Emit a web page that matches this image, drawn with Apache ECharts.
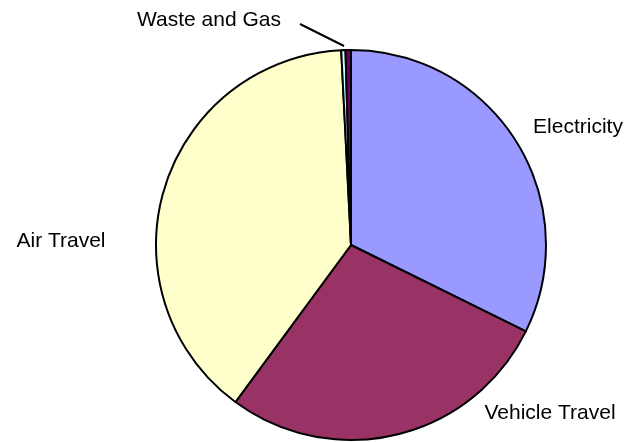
<!DOCTYPE html>
<html>
<head>
<meta charset="utf-8">
<script src="https://cdn.jsdelivr.net/npm/echarts@6/dist/echarts.min.js"></script>
<style>
  html, body { margin: 0; padding: 0; background: #fff; }
  #chart { width: 634px; height: 442px; }
</style>
</head>
<body>
<div id="chart"></div>
<script>
// slices, clockwise from 12 o'clock
var categories = ['Electricity', 'Vehicle Travel', 'Air Travel', 'Other', 'Waste and Gas']
var values = [32.3, 27.8, 39.1, 0.35, 0.45]
var colors = ['#9999FF', '#993366', '#FFFFCC', '#CCFFFF', '#660066']
var showLabel = [true, true, true, false, true]

// where each label sits (centre of the text)
var labelSpots = [
  { x: 578, y: 127 },
  { x: 550, y: 413 },
  { x: 61, y: 241 },
  null,
  { x: 209, y: 20 }
]

var chart = echarts.init(document.getElementById('chart'))

var seriesData = categories.map(function(name, i) {
  return {
    name: name,
    value: values[i],
    itemStyle: { color: colors[i] },
    label: { show: showLabel[i] },
    labelLine: { show: name === 'Waste and Gas' }
  }
})

chart.setOption({
  animation: false,
  backgroundColor: '#fff',
  series: [
    {
      type: 'pie',
      center: [351, 245],
      radius: 195,
      startAngle: 90,
      clockwise: true,
      avoidLabelOverlap: false,
      itemStyle: {
        borderColor: '#000',
        borderWidth: 2
      },
      label: {
        position: 'outside',
        color: '#000',
        fontFamily: 'Liberation Sans, Arial, sans-serif',
        fontSize: 21
      },
      labelLine: {
        lineStyle: { color: '#000', width: 2 }
      },
      labelLayout: function(params) {
        var spot = labelSpots[params.dataIndex]
        if (!spot) {
          return {}
        }
        var out = {
          x: spot.x,
          y: spot.y,
          align: 'center',
          verticalAlign: 'middle'
        }
        if (params.dataIndex === 4) {
          out.labelLinePoints = [[300, 24], [322, 35], [344, 46]]
        }
        return out
      },
      data: seriesData
    }
  ]
})
</script>
</body>
</html>
